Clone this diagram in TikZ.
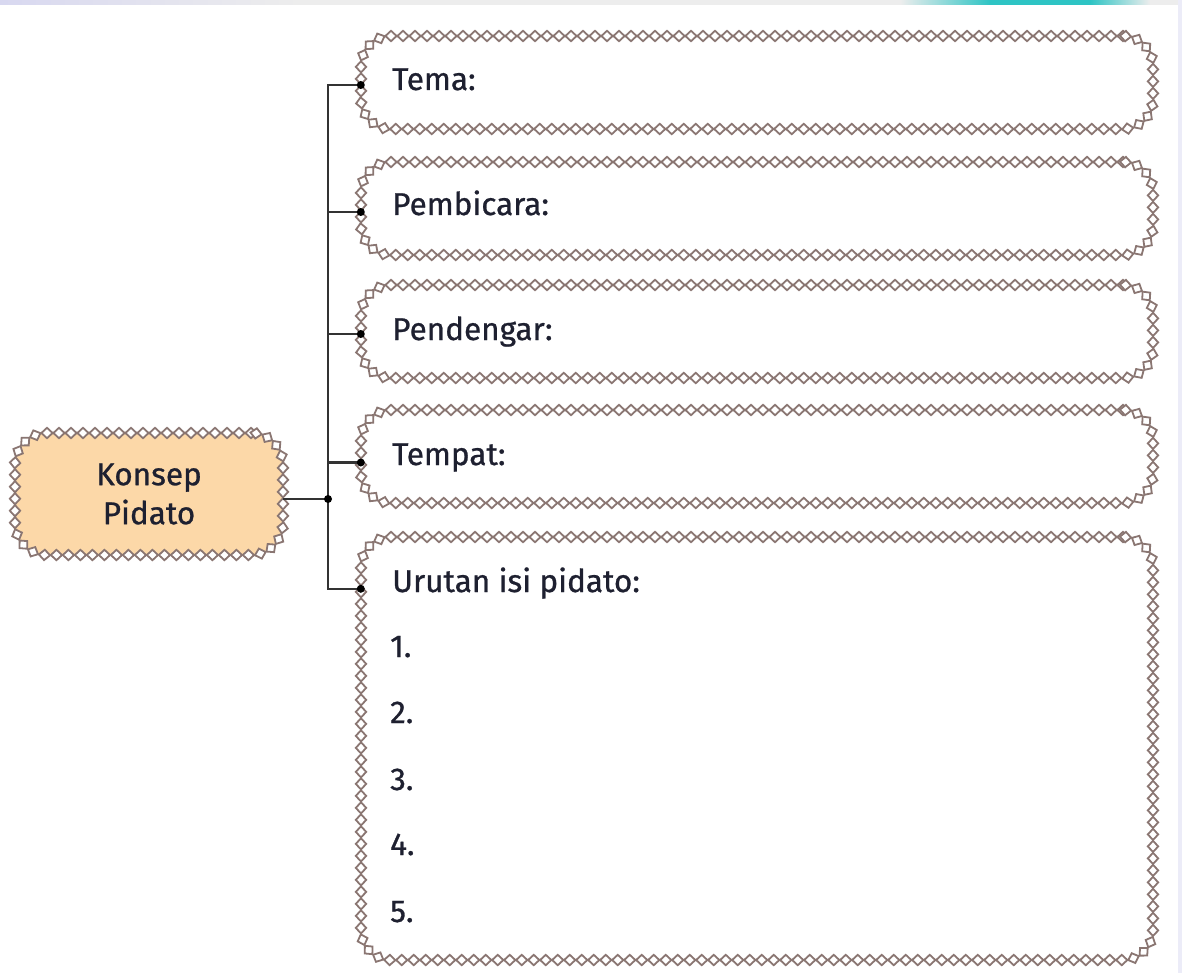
\documentclass[tikz,border=0pt]{standalone}
\usepackage{fontspec}
\setmainfont{Fira Sans}[FakeBold=0.8]
\newfontfamily\lblfont{Fira Sans}[FakeBold=0.8]
\usetikzlibrary{decorations.markings}
\definecolor{chainc}{HTML}{8A7672}
\definecolor{konsepc}{HTML}{FCD8A8}
\definecolor{txtc}{HTML}{1E2030}
\definecolor{tealband}{HTML}{2EC4C4}
\definecolor{bandgray}{HTML}{EDEDED}
\definecolor{bandlav}{HTML}{D8D8F0}
\begin{document}
\begin{tikzpicture}[x=1pt,y=-1pt,
  chain/.style={draw=chainc, line width=1.8pt, fill=white, sharp corners},
  chainbox/.style={rectangle, rounded corners=30pt, inner sep=0pt,
    postaction={decorate},
    decoration={markings, mark=between positions 0 and 1 step 12pt with
      {\path[chain] (-5.6pt,0)--(0,5.2pt)--(5.6pt,0)--(0,-5.2pt)--cycle;}}},
  lbl/.style={anchor=base west, font=\lblfont\fontsize{31.5}{31.5}\selectfont, text=txtc, inner sep=0pt},
  wire/.style={draw=black!80, line width=2.2pt},
  dotn/.style={circle, fill=black, inner sep=0pt, minimum size=8pt}]

\useasboundingbox (0,0) rectangle (1182,973);
\fill[white] (0,0) rectangle (1182,973);
% top colour band
\fill[bandgray] (0,0) rectangle (1182,5);
\shade[left color=bandlav, right color=bandgray] (0,0) rectangle (300,5);
\shade[left color=bandgray, right color=tealband] (900,0) rectangle (990,5);
\fill[tealband] (990,0) rectangle (1090,5);
\shade[left color=tealband, right color=bandgray] (1090,0) rectangle (1150,5);
\fill[bandlav!50] (1178,0) rectangle (1182,973);

% boxes
\node[chainbox, fill=white, minimum width=792pt, minimum height=93pt] (tema) at (757,82.5) {};
\node[chainbox, fill=white, minimum width=792pt, minimum height=93pt] (pembicara) at (757,208.5) {};
\node[chainbox, fill=white, minimum width=792pt, minimum height=93pt] (pendengar) at (757,331.5) {};
\node[chainbox, fill=white, minimum width=792pt, minimum height=93pt] (tempat) at (757,456.5) {};
\node[chainbox, fill=white, minimum width=792pt, minimum height=423pt] (urutan) at (757,748.5) {};
\node[chainbox, fill=konsepc, rounded corners=32pt, minimum width=268pt, minimum height=122pt,
      font=\lblfont\fontsize{31.5}{39}\selectfont, text=txtc, align=center] (konsep) at (149,494) {Konsep\\Pidato};

% connector points
\coordinate (junc) at (328,499);
\coordinate (b1) at ([yshift=-2.5pt]tema.west);
\coordinate (b2) at ([yshift=-3.5pt]pembicara.west);
\coordinate (b3) at ([yshift=-2.5pt]pendengar.west);
\coordinate (b4) at ([yshift=-6pt]tempat.west);
\coordinate (b5) at ([yshift=-52pt]urutan.north west);

\draw[wire] (konsep.east |- junc) -- (junc);
\draw[wire] (b1) -| (junc) |- (b5);
\draw[wire] (junc |- b2) -- (b2);
\draw[wire] (junc |- b3) -- (b3);
\draw[wire] (junc |- b4) -- (b4);

\node[dotn] (dj) at (junc) {};
\node[dotn] (d1) at (b1) {};
\node[dotn] (d2) at (b2) {};
\node[dotn] (d3) at (b3) {};
\node[dotn] (d4) at (b4) {};
\node[dotn] (d5) at (b5) {};

% labels
\node[lbl] (t1) at (392,90) {Tema:};
\node[lbl] (t2) at (392,215) {Pembicara:};
\node[lbl] (t3) at (392,340) {Pendengar:};
\node[lbl] (t4) at (392,465) {Tempat:};
\node[lbl] (t5) at (392,592) {Urutan isi pidato:};
\node[lbl] (n1) at (390,657) {1.};
\node[lbl] (n2) at (390,723) {2.};
\node[lbl] (n3) at (390,790) {3.};
\node[lbl] (n4) at (390,855) {4.};
\node[lbl] (n5) at (390,922) {5.};
\end{tikzpicture}
\end{document}
